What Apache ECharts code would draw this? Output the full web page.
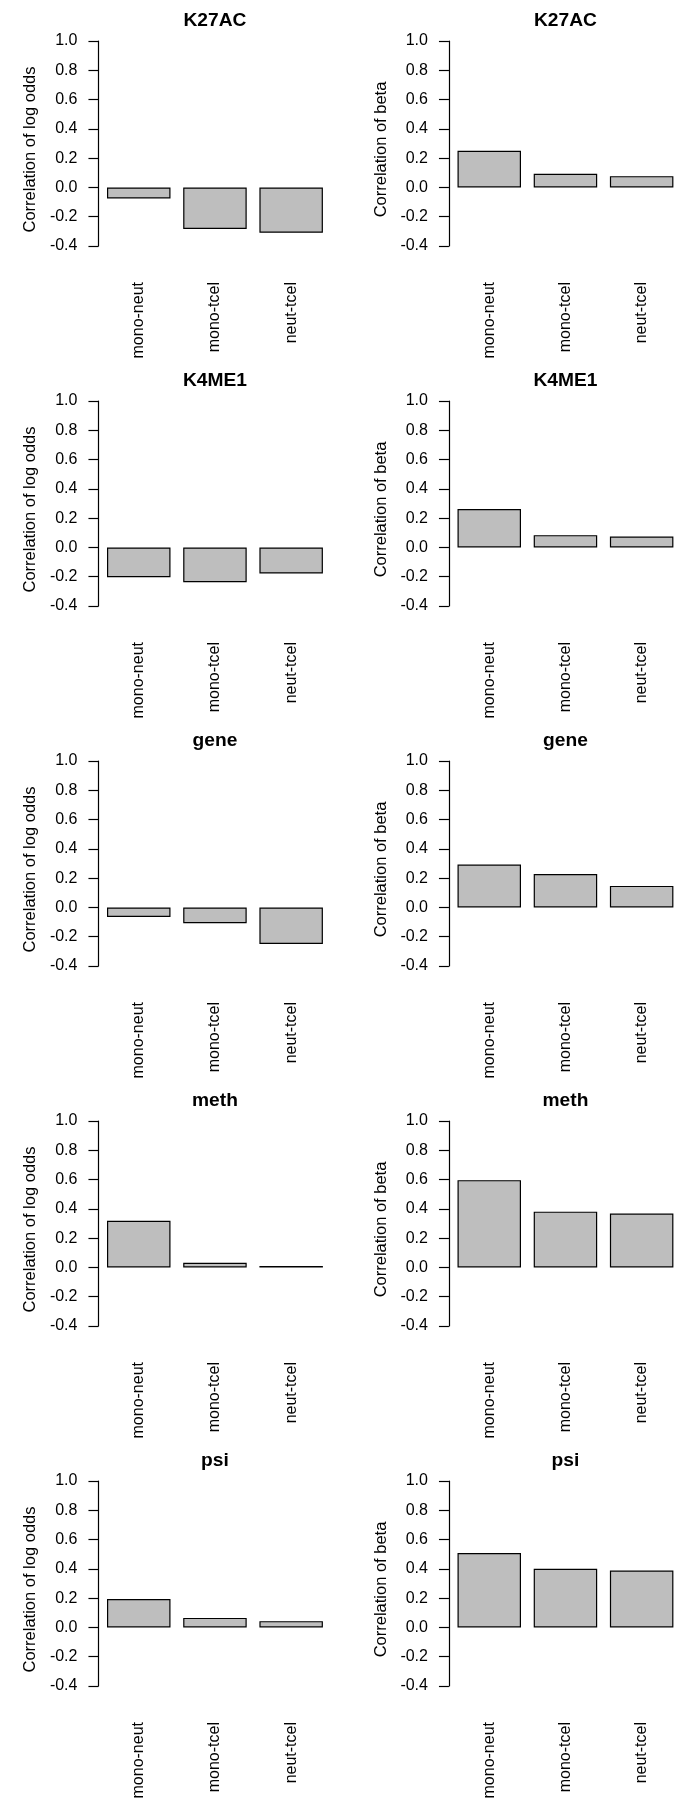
<!DOCTYPE html>
<html>
<head>
<meta charset="utf-8">
<script src="https://cdn.jsdelivr.net/npm/echarts@6/dist/echarts.min.js"></script>
<style>
  html, body { margin: 0; padding: 0; background: #ffffff; }
  #chart { width: 700px; height: 1800px; }
</style>
</head>
<body>
<div id="chart"></div>
<script>
// ---- data ----
const categories = ['mono-neut', 'mono-tcel', 'neut-tcel'];
const panelTitles = ['K27AC', 'K4ME1', 'gene', 'meth', 'psi'];
const leftAxisName = 'Correlation of log odds';
const rightAxisName = 'Correlation of beta';
const yMin = -0.4;
const yMax = 1.0;
const yStep = 0.2;

const logOddsK27AC = [-0.075, -0.284, -0.310];
const betaK27AC    = [0.251, 0.093, 0.077];
const logOddsK4ME1 = [-0.203, -0.237, -0.178];
const betaK4ME1    = [0.262, 0.084, 0.074];
const logOddsGene  = [-0.065, -0.108, -0.250];
const betaGene     = [0.293, 0.228, 0.147];
const logOddsMeth  = [0.318, 0.032, 0.010];
const betaMeth     = [0.596, 0.381, 0.368];
const logOddsPsi   = [0.194, 0.065, 0.043];
const betaPsi      = [0.508, 0.400, 0.388];

const logOddsRows = [logOddsK27AC, logOddsK4ME1, logOddsGene, logOddsMeth, logOddsPsi];
const betaRows    = [betaK27AC, betaK4ME1, betaGene, betaMeth, betaPsi];

// ---- layout ----
const FONT = '"Liberation Sans", Arial, Helvetica, sans-serif';
const ROW_H = 360;
const COL_W = 350.5;
const GRID_LEFT = 100.65;
const GRID_W = 228.6;
const GRID_TOP = 41;
const GRID_H = 205;

const grids = [], xAxes = [], yAxes = [], series = [], graphics = [];

for (let r = 0; r < 5; r++) {
  for (let c = 0; c < 2; c++) {
    const idx = grids.length;
    const left = GRID_LEFT + c * COL_W;
    const top = GRID_TOP + r * ROW_H;
    grids.push({
      left: left, top: top, width: GRID_W, height: GRID_H,
      containLabel: false, outerBoundsMode: 'none'
    });
    xAxes.push({
      type: 'category', gridIndex: idx, data: categories, position: 'bottom',
      boundaryGap: true,
      axisLine: { show: false }, axisTick: { show: false }, splitLine: { show: false },
      axisLabel: {
        interval: 0, rotate: 90, margin: 36, color: '#000',
        fontFamily: FONT, fontSize: 16
      }
    });
    yAxes.push({
      type: 'value', gridIndex: idx, min: yMin, max: yMax, interval: yStep,
      offset: 2.2,
      name: c === 0 ? leftAxisName : rightAxisName,
      nameLocation: 'middle', nameRotate: 90, nameGap: 59, nameMoveOverlap: false,
      nameTextStyle: { color: '#000', fontFamily: FONT, fontSize: 16.5, padding: [0, 12, 0, 0] },
      axisLine: { show: true, onZero: false, lineStyle: { color: '#000', width: 1.2 } },
      axisTick: { show: true, inside: false, length: 10, lineStyle: { color: '#000', width: 1.2 } },
      splitLine: { show: false },
      axisLabel: {
        margin: 21, color: '#000', fontFamily: FONT, fontSize: 16,
        showMinLabel: true, showMaxLabel: true,
        formatter: v => v.toFixed(1)
      }
    });
    series.push({
      type: 'bar', xAxisIndex: idx, yAxisIndex: idx,
      data: (c === 0 ? logOddsRows : betaRows)[r],
      barWidth: 63.5,
      itemStyle: { color: '#bebebe', borderColor: '#000', borderWidth: 1.2 },
      emphasis: { disabled: true },
      animation: false
    });
    graphics.push({
      type: 'text', silent: true,
      style: {
        text: panelTitles[r],
        x: left + GRID_W / 2, y: 21 + r * ROW_H,
        align: 'center', verticalAlign: 'middle',
        fill: '#000', font: 'bold 19.2px ' + FONT
      }
    });
  }
}

const chart = echarts.init(document.getElementById('chart'), null, { renderer: 'canvas' });
chart.setOption({
  animation: false,
  backgroundColor: '#ffffff',
  grid: grids,
  xAxis: xAxes,
  yAxis: yAxes,
  series: series,
  graphic: graphics
});
</script>
</body>
</html>
